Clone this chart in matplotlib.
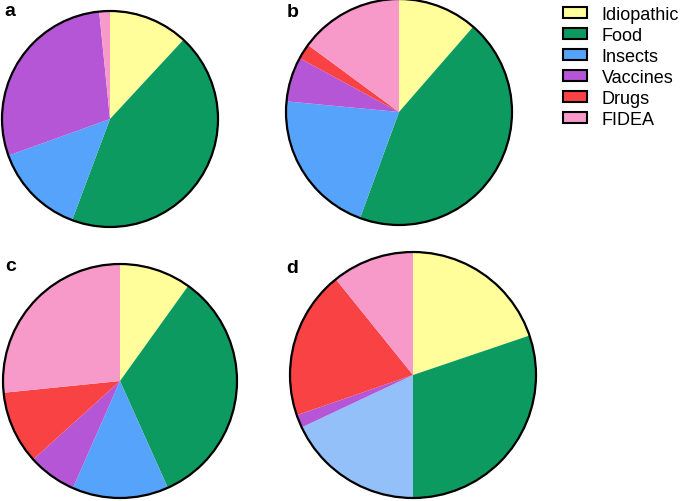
import matplotlib.pyplot as plt
from matplotlib.patches import Patch, Circle

plt.rcParams['font.family'] = ['Liberation Sans', 'DejaVu Sans']

categories = ['Idiopathic', 'Food', 'Insects', 'Vaccines', 'Drugs', 'FIDEA']
colors = ['#FFFE9B', '#0D9A61', '#55A3FB', '#B556D7', '#F94244', '#F799C9']
colors_d = ['#FFFE9B', '#0D9A61', '#93C0F8', '#B556D7', '#F94244', '#F799C9']

# shares (%) per panel, same order as categories
vals_a = [11.9, 43.8, 13.8, 28.9, 0.0, 1.6]
vals_b = [11.4, 44.2, 20.9, 6.4, 2.2, 14.9]
vals_c = [9.9, 33.4, 13.3, 6.7, 10.1, 26.6]
vals_d = [19.8, 30.2, 18.0, 1.7, 19.5, 10.8]

W, H = 685, 502
fig = plt.figure(figsize=(W / 100, H / 100), dpi=100)

# (label, values, colours, centre x px, centre y px, radius px, label baseline px)
panels = [
    ('a', vals_a, colors, 110, 120, 108, (4, 16)),
    ('b', vals_b, colors, 399, 113, 113, (287, 17)),
    ('c', vals_c, colors, 120, 382, 117, (5, 271)),
    ('d', vals_d, colors_d, 413, 376, 123, (286, 273)),
]

m = 1.05
for lab, vals, cols, cx, cy, r, (lx, ly) in panels:
    side = 2 * r * m
    ax = fig.add_axes([(cx - r * m) / W, 1 - (cy + r * m) / H, side / W, side / H])
    ax.pie(vals, colors=cols, startangle=90, counterclock=False,
           wedgeprops=dict(linewidth=0))
    ax.add_patch(Circle((0, 0), 1, fill=False, lw=1.6, ec='black'))
    ax.set_xlim(-m, m)
    ax.set_ylim(-m, m)
    ax.set_aspect('equal')
    ax.axis('off')
    fig.text(lx / W, 1 - ly / H, lab, fontsize=14, fontweight='bold',
             ha='left', va='baseline')

handles = [Patch(facecolor=c, edgecolor='black', linewidth=1.5) for c in colors]
fig.legend(handles, categories, loc='upper left', bbox_to_anchor=(563 / W, 1 - 7 / H),
           frameon=False, fontsize=13, handlelength=1.33, handleheight=0.56,
           labelspacing=0.22, handletextpad=0.82, borderpad=0, borderaxespad=0)

fig.savefig('out.png', dpi=100)
